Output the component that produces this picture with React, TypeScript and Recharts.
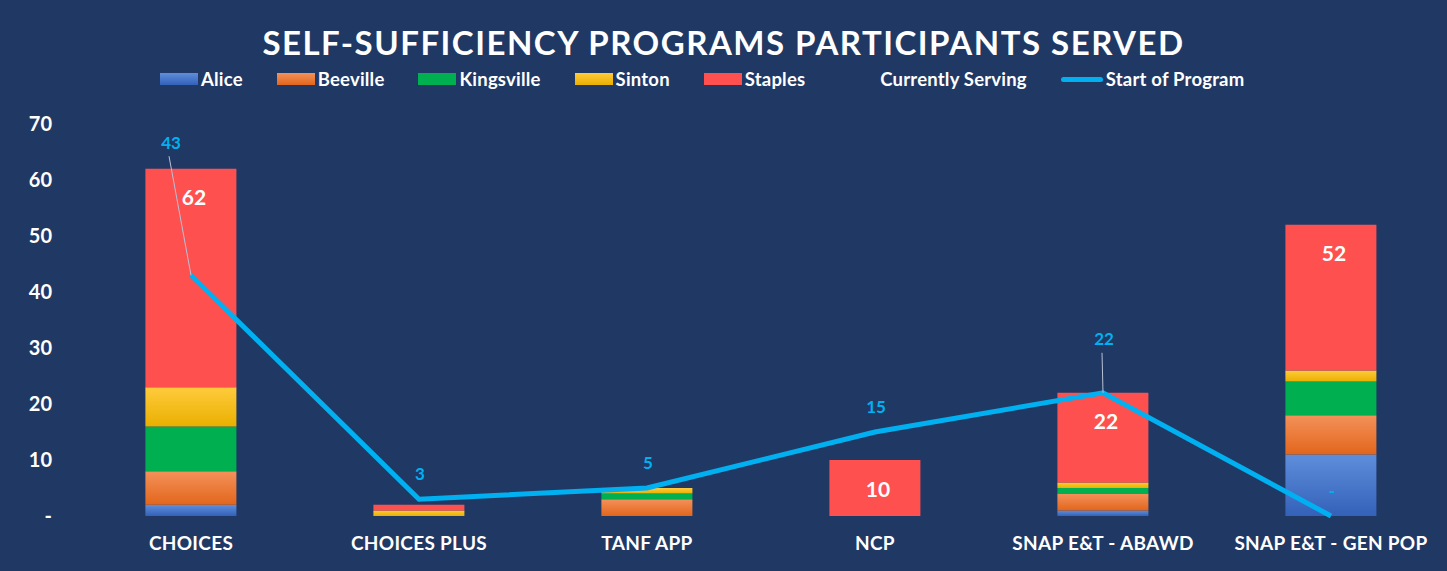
import React from 'react';
import {
  ComposedChart,
  Bar,
  Line,
  XAxis,
  YAxis,
  LabelList,
} from 'recharts';

const programs = ['CHOICES', 'CHOICES PLUS', 'TANF APP', 'NCP', 'SNAP E&T - ABAWD', 'SNAP E&T - GEN POP'];
const alice = [2, 0, 0, 0, 1, 11];
const beeville = [6, 0, 3, 0, 3, 7];
const kingsville = [8, 0, 1, 0, 1, 6];
const sinton = [7, 1, 1, 0, 1, 2];
const staples = [39, 1, 0, 10, 16, 26];
const startOfProgram = [43, 3, 5, 15, 22, 0];
const yTicks = [0, 10, 20, 30, 40, 50, 60, 70];

const data = programs.map((name, i) => ({
  name,
  alice: alice[i],
  beeville: beeville[i],
  kingsville: kingsville[i],
  sinton: sinton[i],
  staples: staples[i],
  serving: alice[i] + beeville[i] + kingsville[i] + sinton[i] + staples[i],
  start: startOfProgram[i],
}));

const BG = '#203864';
const FONT = 'Lato, "Open Sans", sans-serif';
const LINE_BLUE = '#00B0F0';

// labels that were dragged away from the line in the original, with a leader line
const leaderShift: Record<number, { dx: number; dy: number }> = {
  0: { dx: -20, dy: -133 },
  4: { dx: 1, dy: -54 },
};

const legendItems = [
  { label: 'Alice', kind: 'box', fill: 'linear-gradient(#5E8EDB, #3461B9)' },
  { label: 'Beeville', kind: 'box', fill: 'linear-gradient(#F4915A, #E2661C)' },
  { label: 'Kingsville', kind: 'box', fill: '#00B050' },
  { label: 'Sinton', kind: 'box', fill: 'linear-gradient(#FFCB3C, #E9B000)' },
  { label: 'Staples', kind: 'box', fill: '#FF5050' },
  { label: 'Currently Serving', kind: 'none', fill: 'none' },
  { label: 'Start of Program', kind: 'line', fill: LINE_BLUE },
];

const ChartLegend = () => (
  <div
    style={{
      position: 'absolute',
      top: 68,
      left: 160,
      display: 'flex',
      alignItems: 'center',
      gap: 34,
      fontFamily: FONT,
      fontWeight: 700,
      fontSize: 18.5,
      letterSpacing: 0.2,
      color: '#fff',
      lineHeight: '22px',
      whiteSpace: 'nowrap',
    }}
  >
    {legendItems.map((it) => (
      <div key={it.label} style={{ display: 'flex', alignItems: 'center', gap: 3 }}>
        {it.kind === 'box' && (
          <span style={{ width: 38, height: 12, background: it.fill, display: 'inline-block' }} />
        )}
        {it.kind === 'none' && <span style={{ width: 38, height: 12, display: 'inline-block' }} />}
        {it.kind === 'line' && (
          <span style={{ width: 42, height: 5, borderRadius: 3, background: it.fill, display: 'inline-block' }} />
        )}
        <span>{it.label}</span>
      </div>
    ))}
  </div>
);

const ServingLabel = (props: any) => {
  const { x, y, value } = props;
  if (value < 10) return null;
  return (
    <text x={x + 3} y={y + 28} fill="#fff" fontSize={21} fontWeight={700} fontFamily={FONT} textAnchor="middle" dominantBaseline="central">
      {value}
    </text>
  );
};

const StartLabel = (props: any) => {
  const { x, y, value, index } = props;
  const shift = leaderShift[index];
  const text = value === 0 ? '-' : String(value);
  if (shift) {
    const lx = x + shift.dx;
    const ly = y + shift.dy;
    return (
      <g>
        <line x1={lx - 2} y1={ly + 14} x2={x} y2={y} stroke="#B8C2D6" strokeWidth={1} />
        <text x={lx} y={ly} fill={LINE_BLUE} fontSize={17} fontWeight={700} fontFamily={FONT} textAnchor="middle" dominantBaseline="central">
          {text}
        </text>
      </g>
    );
  }
  return (
    <text x={x + 1} y={y - 26} fill={LINE_BLUE} fontSize={17} fontWeight={700} fontFamily={FONT} textAnchor="middle" dominantBaseline="central">
      {text}
    </text>
  );
};

export default function App() {
  return (
    <div style={{ position: 'absolute', left: 0, top: 0, width: 1447, height: 571, background: BG, overflow: 'hidden' }}>
      <div
        style={{
          position: 'absolute',
          top: 20,
          left: 0,
          width: 1447,
          textAlign: 'center',
          fontFamily: FONT,
          fontWeight: 700,
          fontSize: 33,
          lineHeight: '44px',
          color: '#fff',
          letterSpacing: 1.5,
        }}
      >
        SELF-SUFFICIENCY PROGRAMS PARTICIPANTS SERVED
      </div>
      <ChartLegend />
      <ComposedChart
        width={1447}
        height={571}
        data={data}
        margin={{ top: 124, right: 2, bottom: 15, left: 17 }}
        barCategoryGap="30%"
      >
        <defs>
          <linearGradient id="gAlice" x1="0" y1="0" x2="0" y2="1">
            <stop offset="0%" stopColor="#5E8EDB" />
            <stop offset="100%" stopColor="#3461B9" />
          </linearGradient>
          <linearGradient id="gBee" x1="0" y1="0" x2="0" y2="1">
            <stop offset="0%" stopColor="#F4915A" />
            <stop offset="100%" stopColor="#E2661C" />
          </linearGradient>
          <linearGradient id="gSin" x1="0" y1="0" x2="0" y2="1">
            <stop offset="0%" stopColor="#FFCB3C" />
            <stop offset="100%" stopColor="#E9B000" />
          </linearGradient>
        </defs>
        <XAxis
          dataKey="name"
          axisLine={false}
          tickLine={false}
          tickSize={0}
          tickMargin={21}
          height={40}
          interval={0}
          tick={{ fill: '#fff', fontSize: 19, fontWeight: 700, fontFamily: FONT, letterSpacing: 0.3 }}
        />
        <YAxis
          domain={[0, 70]}
          ticks={yTicks}
          width={60}
          axisLine={false}
          tickLine={false}
          tickSize={0}
          tickMargin={25}
          tickFormatter={(v: number) => (v === 0 ? '-' : String(v))}
          tick={{ fill: '#fff', fontSize: 20, fontWeight: 700, fontFamily: FONT }}
        />
        <Bar dataKey="alice" name="Alice" stackId="a" fill="url(#gAlice)" isAnimationActive={false} />
        <Bar dataKey="beeville" name="Beeville" stackId="a" fill="url(#gBee)" isAnimationActive={false} />
        <Bar dataKey="kingsville" name="Kingsville" stackId="a" fill="#00B050" isAnimationActive={false} />
        <Bar dataKey="sinton" name="Sinton" stackId="a" fill="url(#gSin)" isAnimationActive={false} />
        <Bar dataKey="staples" name="Staples" stackId="a" fill="#FF5050" isAnimationActive={false} />
        <Line
          dataKey="serving"
          name="Currently Serving"
          stroke="none"
          dot={false}
          activeDot={false}
          isAnimationActive={false}
        >
          <LabelList dataKey="serving" content={ServingLabel} />
        </Line>
        <Line
          dataKey="start"
          name="Start of Program"
          stroke={LINE_BLUE}
          strokeWidth={5}
          dot={false}
          activeDot={false}
          isAnimationActive={false}
        >
          <LabelList dataKey="start" content={StartLabel} />
        </Line>
      </ComposedChart>
    </div>
  );
}
